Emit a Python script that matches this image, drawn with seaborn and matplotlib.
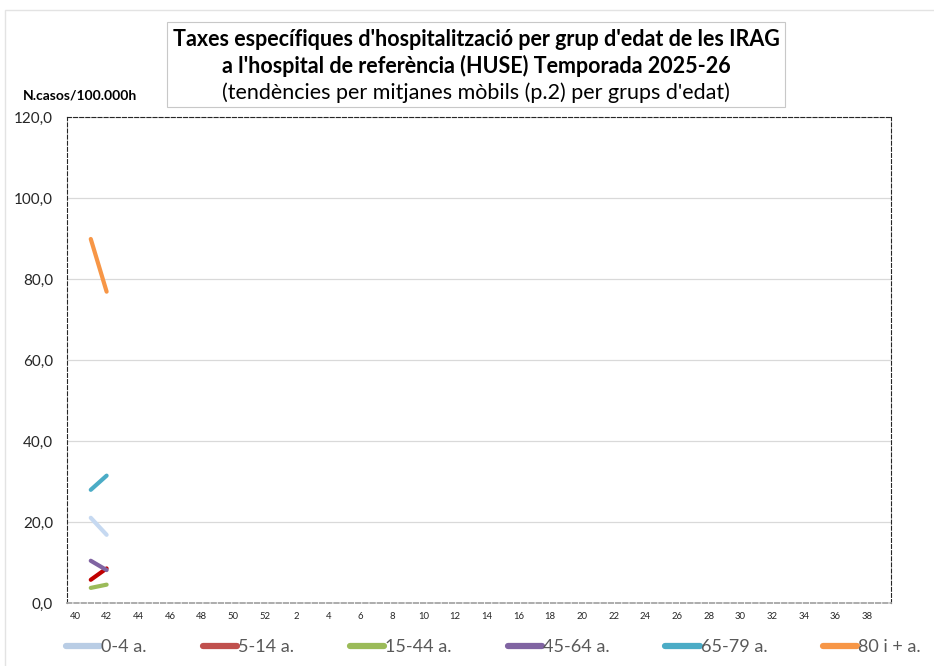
import numpy as np
import pandas as pd
import matplotlib
matplotlib.use("Agg")
import matplotlib.pyplot as plt
import seaborn as sns
from matplotlib.lines import Line2D
from matplotlib.patches import Rectangle

# season weeks: 40..52 then 1..39
weeks = [str(w) for w in list(range(40, 53)) + list(range(1, 40))]
groups = ["0-4 a.", "5-14 a.", "15-44 a.", "45-64 a.", "65-79 a.", "80 i + a."]

# rates (cases per 100.000 inhabitants), only weeks 41 and 42 reported so far
data_weeks = ["41", "42"]
rate_0_4 = [21.1, 16.9]
rate_5_14 = [5.8, 8.6]
rate_15_44 = [3.8, 4.6]
rate_45_64 = [10.5, 8.2]
rate_65_79 = [28.0, 31.5]
rate_80 = [89.9, 76.9]

line_colors = ["#C6D9F1", "#C00000", "#9BBB59", "#8064A2", "#4BACC6", "#F79646"]
legend_colors = ["#B9CDE5", "#C0504D", "#9BBB59", "#8064A2", "#4BACC6", "#F79646"]

rows = []
for g, vals in zip(groups, [rate_0_4, rate_5_14, rate_15_44, rate_45_64, rate_65_79, rate_80]):
    for w, v in zip(data_weeks, vals):
        rows.append({"pos": weeks.index(w), "grup": g, "taxa": v})
df = pd.DataFrame(rows)

sns.set_style("white")
plt.rcParams["font.family"] = ["Lato", "DejaVu Sans"]

fig = plt.figure(figsize=(9.34, 6.66), dpi=100)
ax = fig.add_axes([67 / 934, 1 - 603.3 / 666, 824 / 934, (603.3 - 117) / 666])

sns.lineplot(data=df, x="pos", y="taxa", hue="grup", hue_order=groups,
             palette=line_colors, linewidth=3, solid_capstyle="round",
             legend=False, ax=ax)

ax.set_xlim(-0.5, len(weeks) - 0.5)
ax.set_ylim(0, 120)
ax.set_yticks(np.arange(0, 121, 20))
ax.set_yticklabels([f"{v:.1f}".replace(".", ",") for v in np.arange(0, 121, 20)])
ax.set_xticks(range(0, len(weeks), 2))
ax.set_xticklabels(weeks[::2])
ax.tick_params(axis="y", length=0, pad=10, labelsize=11, labelcolor="#262626")
ax.tick_params(axis="x", length=3, color="#A6A6A6", width=0.8, labelsize=6.8,
               labelcolor="#262626", pad=3)
ax.set_xlabel("")
ax.set_ylabel("")
ax.yaxis.grid(True, color="#D9D9D9", linewidth=0.9)
ax.set_axisbelow(True)

for side in ["top", "left", "right"]:
    ax.spines[side].set_visible(True)
    ax.spines[side].set_color("#262626")
    ax.spines[side].set_linewidth(0.8)
    ax.spines[side].set_linestyle((0, (3.5, 2)))
ax.spines["bottom"].set_color("#A6A6A6")
ax.spines["bottom"].set_linewidth(1.3)
ax.spines["bottom"].set_linestyle((0, (2.5, 1.5)))

# outer chart frame
fig.patches.append(Rectangle((5 / 934, -0.1), 1.2, 1 - 10 / 666 + 0.1,
                             transform=fig.transFigure, fill=False,
                             edgecolor="#E3E3E3", linewidth=1))

# title box
fig.patches.append(Rectangle((167 / 934, 1 - 107 / 666), 618 / 934, 85 / 666,
                             transform=fig.transFigure, fill=False,
                             edgecolor="#C8C8C8", linewidth=0.8))
fig.text(476 / 934, 1 - 40 / 666,
         "Taxes específiques d'hospitalització per grup d'edat de les IRAG",
         ha="center", va="center", fontsize=15.5, fontweight="bold", color="black")
fig.text(476 / 934, 1 - 66 / 666,
         "a l'hospital de referència (HUSE) Temporada 2025-26",
         ha="center", va="center", fontsize=15.5, fontweight="bold", color="black")
fig.text(476 / 934, 1 - 93 / 666,
         "(tendències per mitjanes mòbils (p.2) per grups d'edat)",
         ha="center", va="center", fontsize=15.5, color="black")

fig.text(80 / 934, 1 - 96 / 666, "N.casos/100.000h", ha="center", va="center",
         fontsize=10, fontweight="bold", color="black")

handles = [Line2D([], [], color=c, linewidth=4.5, solid_capstyle="round")
           for c in legend_colors]
leg = fig.legend(handles, groups, loc="center left",
                 bbox_to_anchor=(66 / 934, 1 - 647 / 666), ncol=6,
                 frameon=False, fontsize=13, handlelength=1.9,
                 handletextpad=0.05, columnspacing=3.1,
                 borderpad=0, borderaxespad=0)
for t in leg.get_texts():
    t.set_color("#595959")

fig.savefig("out.png", dpi=100)
